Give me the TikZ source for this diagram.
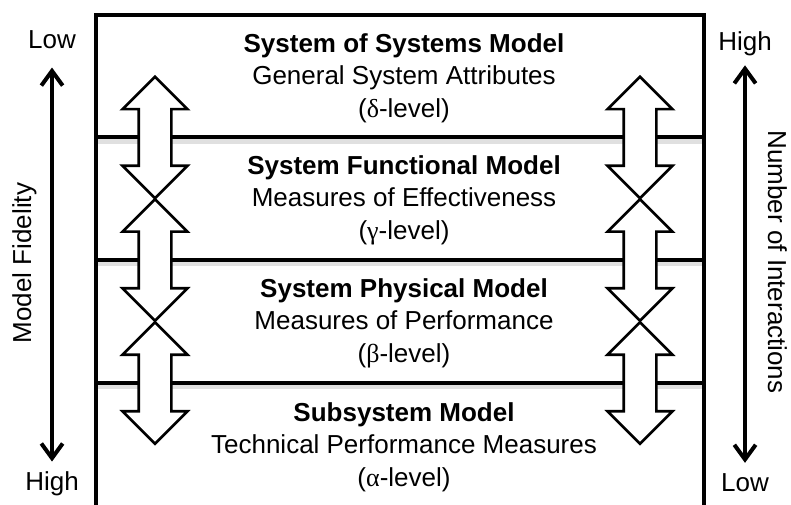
\documentclass[tikz,border=0pt]{standalone}
\usepackage{fontspec}
\setmainfont{Liberation Sans}
\newfontfamily\grkfont{Liberation Serif}
\usetikzlibrary{shapes.arrows,arrows.meta}

\begin{document}
\begin{tikzpicture}[x=0.75pt,y=-0.75pt,
  level/.style={align=center, font=\fontsize{19.5}{24.4}\selectfont},
  tag/.style={font=\fontsize{19.5}{24}\selectfont, inner sep=0pt, anchor=base},
  swap/.style={double arrow, rotate=90, draw=black, line width=2pt, fill=white,
    minimum height=91pt, double arrow head extend=12pt, double arrow head indent=0pt,
    inner xsep=0pt, inner ysep=11.25pt},
  frame/.style={line width=3pt, line join=miter},
  shade/.style={line width=3.5pt, draw=black!12},
  axis/.style={line width=3pt, {Straight Barb[length=11pt,width=16pt]}-{Straight Barb[length=11pt,width=16pt]}}]
\useasboundingbox (0,0) rectangle (791,505);

% layers
\draw[shade] (98,141.5) -- (702,141.5);
\draw[shade] (98,264) -- (702,264);
\draw[shade] (98,387) -- (702,387);
\draw[frame] (96,505) -- (96,15) -- (704,15) -- (704,505);
\draw[frame] (96,137.5) -- (704,137.5);
\draw[frame] (96,260) -- (704,260);
\draw[frame] (96,383) -- (704,383);

\node[level](sos) at (404,78) {\textbf{System of Systems Model}\\General System Attributes\\({\grkfont δ}-level)};
\node[level](func) at (404,200) {\textbf{System Functional Model}\\Measures of Effectiveness\\({\grkfont γ}-level)};
\node[level](phys) at (404,323) {\textbf{System Physical Model}\\Measures of Performance\\({\grkfont β}-level)};
\node[level](sub) at (404,447) {\textbf{Subsystem Model}\\Technical Performance Measures\\({\grkfont α}-level)};

% double arrows between levels
\node[swap](la) at (155,137.5) {};
\node[swap](lb) at (155,260) {};
\node[swap](lc) at (155,383) {};
\node[swap](ra) at (640,137.5) {};
\node[swap](rb) at (640,260) {};
\node[swap](rc) at (640,383) {};

% axes
\node[tag](fidlow) at (52,49) {Low};
\node[tag](fidhigh) at (52,490) {High};
\node[tag, rotate=90](fidname) at (31,263) {Model Fidelity};
\draw[axis, shorten <=13.5pt, shorten >=7pt] (fidlow.south) -- (fidhigh.north);

\node[tag](numhigh) at (745,51) {High};
\node[tag](numlow) at (745,491) {Low};
\node[tag, rotate=-90](numname) at (768,262) {Number of Interactions};
\draw[axis, shorten <=6.5pt, shorten >=7.5pt] (numhigh.south) -- (numlow.north);
\end{tikzpicture}
\end{document}
